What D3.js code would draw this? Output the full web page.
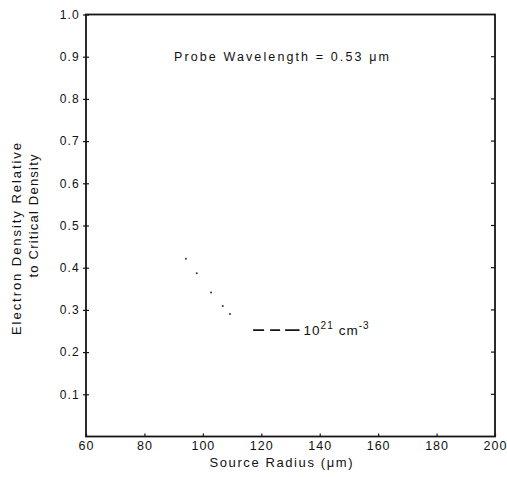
<!DOCTYPE html>
<html><head><meta charset="utf-8">
<script src="https://cdn.jsdelivr.net/npm/d3@7"></script>
<style>body{margin:0;background:#fff}svg{display:block}text{font-family:"Liberation Sans",Arial,sans-serif;fill:#111}</style>
</head><body><svg id="c" width="507" height="477"></svg>
<script>
const xTicks = [60, 80, 100, 120, 140, 160, 180, 200];
const yTicks = [0.1, 0.2, 0.3, 0.4, 0.5, 0.6, 0.7, 0.8, 0.9, 1.0];
const yTickLabels = ["0.1","0.2","0.3","0.4","0.5","0.6","0.7","0.8","0.9","1.0"];
const dotRadius = [94.2, 97.9, 102.8, 106.8, 109.3];
const dotDensity = [0.421, 0.387, 0.341, 0.309, 0.290];
const dashRadius = [117.2, 133.1];
const dashDensity = [0.252, 0.252];
const title = "Probe Wavelength = 0.53 μm";
const xTitle = "Source Radius (μm)";
const yTitle1 = "Electron Density Relative";
const yTitle2 = "to Critical Density";

const svg = d3.select("#c");
const L = 86, R = 495, T = 14.5, B = 436.5;
const x = d3.scaleLinear().domain([60, 200]).range([L, R]);
const y = d3.scaleLinear().domain([0, 1]).range([B, T]);
const ink = "#151515";
const ff = "'Liberation Sans',Arial,sans-serif";

// frame
svg.append("rect").attr("x", L).attr("y", T).attr("width", R - L).attr("height", B - T)
  .attr("fill", "none").attr("stroke", ink).attr("stroke-width", 1.8);

// left axis: cross ticks
const ly = svg.append("g").attr("transform", `translate(${L},0)`)
  .call(d3.axisLeft(y).tickValues(yTicks).tickSize(0).tickPadding(6)
    .tickFormat((d, i) => yTickLabels[i]));
ly.select(".domain").remove();
ly.selectAll("text").attr("font-size", 12).attr("fill", ink).attr("font-family", ff)
  .attr("letter-spacing", 1.2);
ly.selectAll(".tick").append("line").attr("x1", -3).attr("x2", 3).attr("stroke", ink).attr("stroke-width", 1.2);

// right axis inward ticks
svg.append("g").selectAll("line").data(yTicks.slice(0, 9)).join("line")
  .attr("x1", R - 4).attr("x2", R).attr("y1", d => y(d)).attr("y2", d => y(d))
  .attr("stroke", ink).attr("stroke-width", 1.2);

// bottom axis
const bx = svg.append("g").attr("transform", `translate(0,${B})`)
  .call(d3.axisBottom(x).tickValues(xTicks).tickSize(0).tickPadding(5));
bx.select(".domain").remove();
bx.selectAll("text").attr("font-size", 12.5).attr("fill", ink).attr("font-family", ff)
  .attr("letter-spacing", 1);
bx.selectAll(".tick").append("line").attr("y1", 0).attr("y2", -3).attr("stroke", ink).attr("stroke-width", 1.2);

// dotted segment
svg.append("g").selectAll("circle").data(dotRadius).join("circle")
  .attr("cx", d => x(d)).attr("cy", (d, i) => y(dotDensity[i])).attr("r", 1).attr("fill", "#333");

// dashed segment
const line = d3.line().x(d => x(d[0])).y(d => y(d[1]));
svg.append("path").attr("d", line(dashRadius.map((d, i) => [d, dashDensity[i]])))
  .attr("fill", "none").attr("stroke", ink).attr("stroke-width", 1.8).attr("stroke-dasharray", "11,6,10,5,16");

// curve label
const lab = svg.append("text").attr("x", x(dashRadius[1]) + 4).attr("y", y(dashDensity[1]) + 5)
  .attr("font-size", 13.5).attr("letter-spacing", 1);
lab.append("tspan").text("10");
lab.append("tspan").attr("dy", -6).attr("font-size", 10).text("21");
lab.append("tspan").attr("dy", 6).attr("dx", 5).text("cm");
lab.append("tspan").attr("dy", -6).attr("font-size", 10).text("-3");

// title inside plot
svg.append("text").attr("x", x(90.1)).attr("y", y(0.9) + 4.5).attr("font-size", 12.5)
  .attr("textLength", 215).attr("lengthAdjust", "spacing").text(title);

// axis titles
svg.append("text").attr("x", 281).attr("y", 467).attr("text-anchor", "middle")
  .attr("font-size", 13).attr("textLength", 143).attr("lengthAdjust", "spacing").text(xTitle);
svg.append("text").attr("transform", "translate(21,239) rotate(-90)").attr("text-anchor", "middle")
  .attr("font-size", 13).attr("textLength", 192).attr("lengthAdjust", "spacing").text(yTitle1);
svg.append("text").attr("transform", "translate(38,216) rotate(-90)").attr("text-anchor", "middle")
  .attr("font-size", 13).attr("textLength", 123).attr("lengthAdjust", "spacing").text(yTitle2);
</script></body></html>
